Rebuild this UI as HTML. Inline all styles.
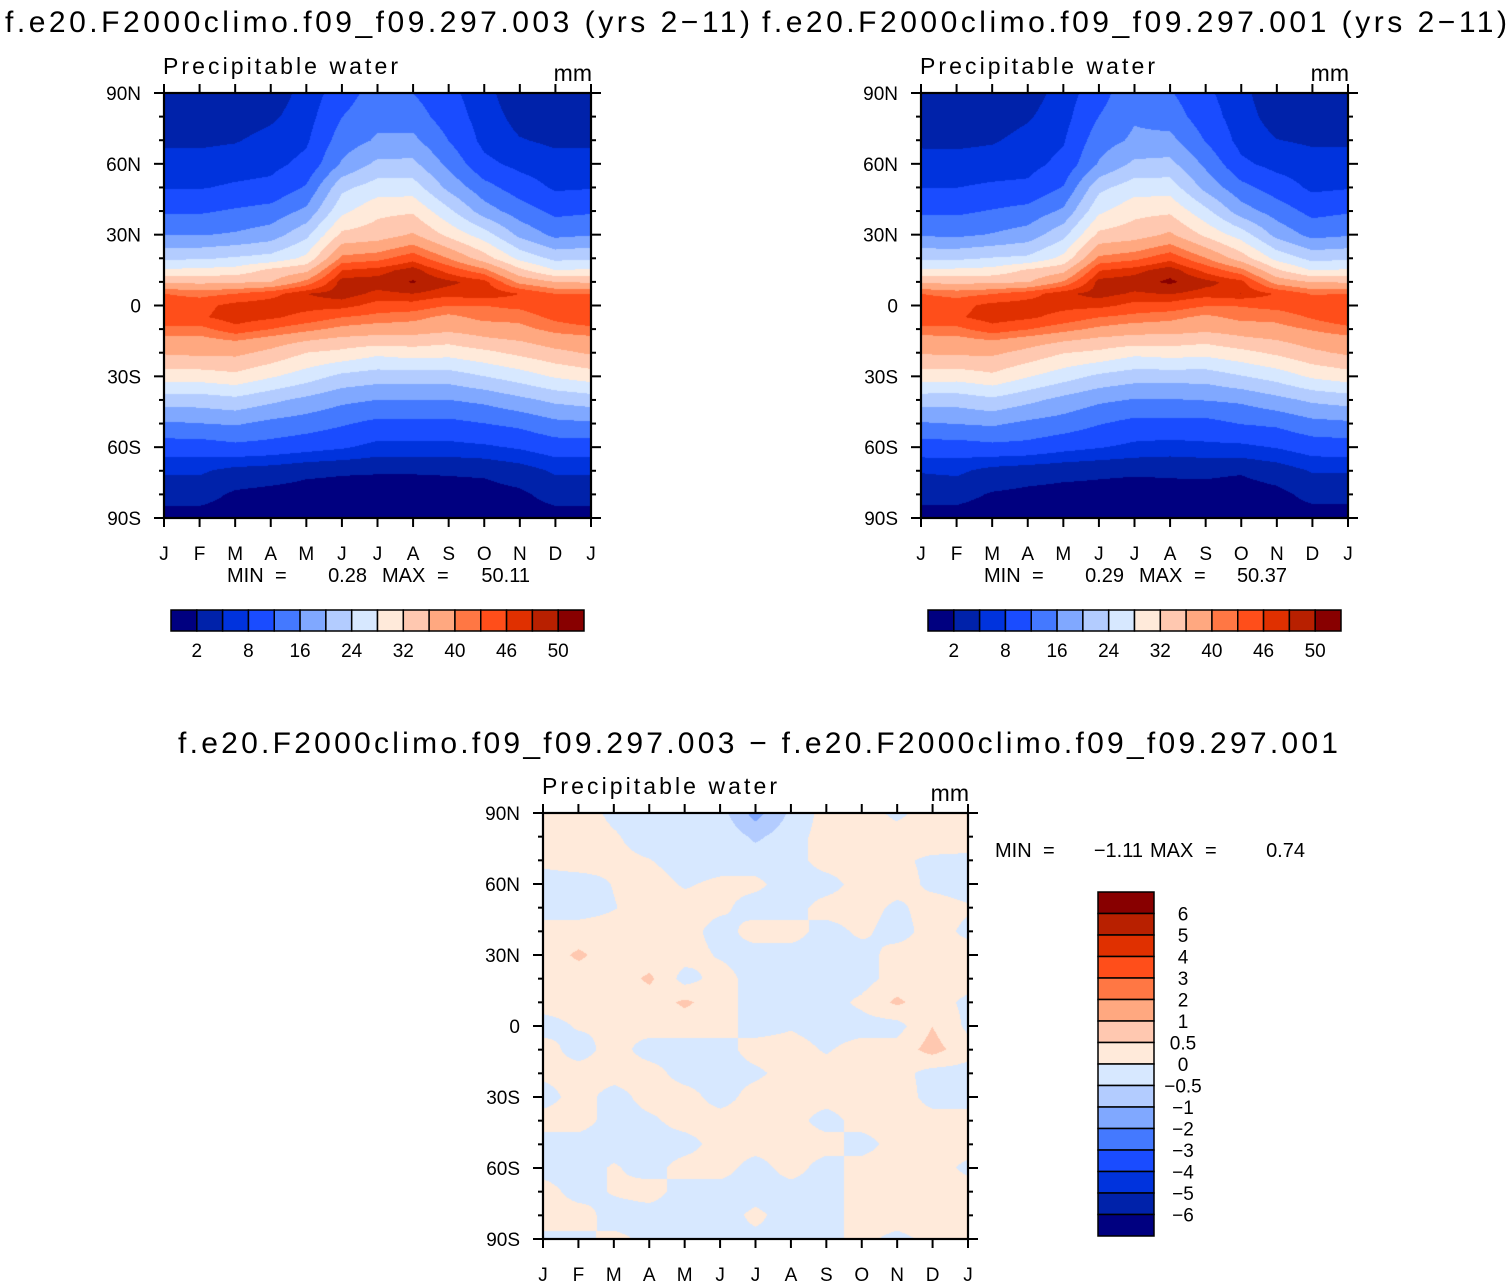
<!DOCTYPE html>
<html><head><meta charset="utf-8">
<style>
html,body{margin:0;padding:0;background:#fff;}
#wrap{position:relative;width:1512px;height:1285px;overflow:hidden;background:#fff;}
canvas{position:absolute;}
svg{position:absolute;left:0;top:0;}
text{font-family:"Liberation Sans",sans-serif;fill:#000;}
</style></head>
<body>
<div id="wrap">
<canvas id="c1" style="left:164px;top:93px" width="427" height="425"></canvas>
<canvas id="c2" style="left:921px;top:93px" width="427" height="425"></canvas>
<canvas id="c3" style="left:543px;top:813px" width="425" height="426"></canvas>
<svg id="s" width="1512" height="1285" xmlns="http://www.w3.org/2000/svg">
<text x="5" y="32" font-size="30" textLength="745" lengthAdjust="spacing">f.e20.F2000climo.f09_f09.297.003 (yrs 2−11)</text>
<text x="762" y="32" font-size="30" textLength="745" lengthAdjust="spacing">f.e20.F2000climo.f09_f09.297.001 (yrs 2−11)</text>
<text x="178" y="753" font-size="30" textLength="1160" lengthAdjust="spacing">f.e20.F2000climo.f09_f09.297.003 − f.e20.F2000climo.f09_f09.297.001</text>
</svg>
</div>
<script>
// ---- data ----
const LATS=[90,80,70,60,50,40,30,20,15,10,5,0,-5,-10,-15,-20,-30,-40,-50,-60,-70,-80,-90];
const MONTHS=['J','F','M','A','M','J','J','A','S','O','N','D','J'];
const LAT_TICKS=['90N','60N','30N','0','30S','60S','90S'];
const PW_LEVELS=[2,5,8,12,16,20,24,28,32,36,40,43,46,48,50];
const PW_LABELS=['2','8','16','24','32','40','46','50'];
const DIFF_LEVELS=[-6,-5,-4,-3,-2,-1,-0.5,0,0.5,1,2,3,4,5,6];
const DIFF_LABELS=['6','5','4','3','2','1','0.5','0','\u22120.5','\u22121','\u22122','\u22123','\u22124','\u22125','\u22126'];
const COLORS=['#000080','#0022aa','#0033dd','#1a4cff','#4479ff','#80a8ff','#b3ccff','#d7e8ff','#ffeada','#ffc8b0','#ffa880','#ff7744','#ff4e1a','#e03000','#b82000','#880000'];
// precipitable water (003), one array per month column (Jan..Jan), values at LATS
const pwJan=[3,3.5,4.5,6,7.8,11.5,15.8,23.5,28.5,35.5,43,45,46,42,38.5,36.5,30,22,15.5,10,5.5,3,1];
const pwFeb=[3,3.5,4.5,6,7.8,11.5,15.8,23.5,29,35,42,45,45.5,42,38.5,37,30,22,16,10,5.5,3,1];
const pwMar=[3,3.5,4.8,6.5,8.5,12.5,16.5,24.5,29.5,35.5,43,47,47.5,45,40,37,31,23,16.5,11,4,1.6,0.9];
const pwApr=[3.5,4.5,6,7,9,13.5,18,25.5,33,36,45,47.5,46.5,43,38,35,28.5,21,15,10.5,3.5,1.2,0.8];
const pwMay=[6,6.5,7.5,9,12.5,17,23,29,35,41,48,47,45,41,36,32,26,19,14,9.5,2.6,1,0.7];
const pwJun=[10,12,14,16.5,23,27,33,41,46,49,49,47,43,39,34.5,31,23,17,12.5,8.5,2.3,1,0.7];
const pwJul=[14,15,16.5,21,26,31,34,42,47,49,47.5,45,42,38,34,29,22,16,11,7,2.2,1,0.7];
const pwAug=[12,14,17,21,26,31.5,36.5,45,49,50.2,48,45,41,38,34,30,22,16,11,7,2.2,1,0.7];
const pwSep=[9,10,12,15,19,25,31,40,45,48.5,47,43,39,37,33,29.5,22,16,11,7,2.3,1,0.7];
const pwOct=[6,6.5,7,9,13.5,18,26,34,41,47,48,43,41,38,35,31,24,17,12,7.5,2.5,1,0.7];
const pwNov=[3,4,5.2,7,10,14,19,27,33,39,46,44,41,39,36,33,26,19,13,8.5,3.5,1.5,0.9];
const pwDec=[3,3.5,4.5,6,7.5,11,15,23,28,36,43,46,44,41,38,35,28.5,21,15,10,5.5,3,1];
const pwJan2=[3,3.5,4.5,6,7.8,11.5,15.8,23.5,28.5,35.5,43,45,46,42,38.5,36.5,30,22,15.5,10,5.5,3,1];
const PW_COLS=[pwJan,pwFeb,pwMar,pwApr,pwMay,pwJun,pwJul,pwAug,pwSep,pwOct,pwNov,pwDec,pwJan2];
// difference (003 - 001), rows at DLATS, columns Jan..Jan
const DLATS=[90,80,70,60,50,40,30,20,10,0,-10,-20,-30,-40,-50,-60,-70,-80,-90];
const d90=[0.2,0.2,-0.1,-0.2,-0.2,-0.3,-1.2,-0.4,0.2,0.2,-0.1,0.2,0.2];
const d80=[0.2,0.2,0.05,-0.2,-0.2,-0.1,-0.6,-0.2,0.2,0.3,0.2,0.3,0.2];
const d70=[0.1,0.2,0.1,0.02,-0.2,-0.2,-0.2,-0.2,0.2,0.2,0.1,-0.1,-0.1];
const d60=[-0.2,-0.2,0.02,0.2,-0.05,0.1,0.1,-0.2,-0.2,0.2,0.2,-0.1,-0.2];
const d50=[-0.2,-0.2,-0.02,0.2,0.2,0.1,-0.2,-0.2,0.2,0.2,-0.1,0.2,0.05];
const d40=[0.2,0.2,0.2,0.1,0.2,-0.2,0.2,0.2,-0.2,0.1,-0.2,0.2,-0.1];
const d30=[0.2,0.6,0.2,0.2,0.2,-0.05,-0.2,-0.2,-0.2,-0.2,0.2,0.2,0.2];
const d20=[0.2,0.2,0.2,0.6,-0.2,0.2,-0.2,-0.2,-0.2,-0.2,0.2,0.2,0.2];
const d10=[0.2,0.2,0.2,0.2,0.6,0.2,-0.2,-0.2,-0.2,0.1,0.6,0.2,-0.1];
const d00=[-0.2,0.05,0.05,0.2,0.2,0.2,-0.2,-0.05,-0.2,-0.2,-0.2,0.5,-0.1];
const dS10=[0.2,-0.2,0.2,-0.2,-0.2,-0.2,0.2,0.2,-0.05,0.2,0.2,0.7,0.2];
const dS20=[0.1,0.2,0.2,0.2,-0.2,-0.2,-0.1,0.2,0.2,0.2,0.2,-0.2,-0.2];
const dS30=[-0.2,0.2,-0.2,0.2,0.2,-0.2,0.2,0.2,0.2,0.2,0.3,-0.2,-0.2];
const dS40=[0.2,0.2,-0.2,-0.1,0.2,0.2,0.2,0.2,-0.2,0.2,0.2,0.2,0.2];
const dS50=[-0.2,-0.2,-0.2,-0.2,-0.2,0.2,0.2,0.2,0.2,-0.2,0.2,0.2,0.2];
const dS60=[-0.2,-0.2,0.05,-0.2,0.2,0.2,-0.2,0.2,-0.2,0.2,0.2,0.2,-0.1];
const dS70=[0.2,-0.2,0.05,0.2,-0.2,-0.2,-0.2,-0.2,-0.2,0.2,0.2,0.2,0.2];
const dS80=[0.2,0.2,-0.2,-0.2,-0.2,-0.2,0.1,-0.2,-0.2,0.2,0.2,0.2,0.2];
const dS90=[-0.1,-0.1,0.1,-0.1,-0.1,-0.1,-0.1,-0.1,-0.1,0.1,-0.1,0.1,0.1];
const DIFF_ROWS=[d90,d80,d70,d60,d50,d40,d30,d20,d10,d00,dS10,dS20,dS30,dS40,dS50,dS60,dS70,dS80,dS90];
const STATS1=['0.28','50.11'], STATS2=['0.29','50.37'], STATS3=['\u22121.11','0.74'];

// ---- helpers ----
function hex(c){return [parseInt(c.substr(1,2),16),parseInt(c.substr(3,2),16),parseInt(c.substr(5,2),16)];}
const RGB=COLORS.map(hex);
function levelIndex(v,levels){let k=0;while(k<levels.length&&v>=levels[k])k++;return k;}
function latSeg(lats,lat){for(let j=0;j<lats.length-1;j++){if(lat<=lats[j]&&lat>=lats[j+1])return [j,(lats[j]-lat)/(lats[j]-lats[j+1])];}return [lats.length-2,1];}
function pwAt(m,lat){
  const i=Math.min(11,Math.floor(m)),fx=m-i;const [j,fy]=latSeg(LATS,lat);
  const a=PW_COLS[i][j],b=PW_COLS[i+1][j],c=PW_COLS[i][j+1],d=PW_COLS[i+1][j+1];
  return (a*(1-fx)+b*fx)*(1-fy)+(c*(1-fx)+d*fx)*fy;}
function diffAt(m,lat){
  const i=Math.min(11,Math.floor(m)),fx=m-i;const [j,fy]=latSeg(DLATS,lat);
  const r0=DIFF_ROWS[j],r1=DIFF_ROWS[j+1];
  return (r0[i]*(1-fx)+r0[i+1]*fx)*(1-fy)+(r1[i]*(1-fx)+r1[i+1]*fx)*fy;}
function xToMonth(px,w){return px/(w-1)*12;}
function yToLat(py,h){return 90-py/(h-1)*180;}
function drawField(id,fn,levels){
  const cv=document.getElementById(id),ctx=cv.getContext('2d');
  const w=cv.width,h=cv.height,img=ctx.createImageData(w,h);
  for(let y=0;y<h;y++){const lat=yToLat(y,h);
    for(let x=0;x<w;x++){const v=fn(xToMonth(x,w),lat);const c=RGB[levelIndex(v,levels)];
      const p=(y*w+x)*4;img.data[p]=c[0];img.data[p+1]=c[1];img.data[p+2]=c[2];img.data[p+3]=255;}}
  ctx.putImageData(img,0,0);}
drawField('c1',pwAt,PW_LEVELS);
drawField('c2',(m,l)=>pwAt(m,l)-diffAt(m,l),PW_LEVELS);
drawField('c3',diffAt,DIFF_LEVELS);

const NS='http://www.w3.org/2000/svg',svg=document.getElementById('s');
function mk(tag,attrs){const e=document.createElementNS(NS,tag);for(const k in attrs)e.setAttribute(k,attrs[k]);svg.appendChild(e);return e;}
function txt(x,y,s,size,anchor){const e=mk('text',{x:x,y:y,'font-size':size,'text-anchor':anchor||'start'});e.textContent=s;return e;}

function axes(x0,y0,w,h,tag){
  const f=mk('rect',{x:x0,y:y0,width:w,height:h,fill:'none',stroke:'#000','stroke-width':2.2});
  
  
  for(let i=0;i<MONTHS.length;i++){const x=x0+i*w/12;
    const tb=mk('line',{x1:x,y1:y0+h,x2:x,y2:y0+h+9,stroke:'#000','stroke-width':2});
    
    
    const tt=mk('line',{x1:x,y1:y0,x2:x,y2:y0-9,stroke:'#000','stroke-width':2});
    
    
    const l=txt(x,y0+h+42,MONTHS[i],19,'middle');
    
    }
  for(let k=0;k<=18;k++){const y=y0+k*h/18,major=(k%3===0),len=major?10:5;
    const a=mk('line',{x1:x0-len,y1:y,x2:x0,y2:y,stroke:'#000','stroke-width':2});
    
    
    const b=mk('line',{x1:x0+w,y1:y,x2:x0+w+len,y2:y,stroke:'#000','stroke-width':2});
    
    
    if(major){const l=txt(x0-23,y+7,LAT_TICKS[k/3],19,'end');
      
      }}
  const p=txt(x0-1,y0-19,'Precipitable water',23);
  p.setAttribute('textLength','235');
  
  
  const u=txt(x0+w+1,y0-12,'mm',23,'end');
  
  }
axes(164,93,427,425,'panel-003');
axes(921,93,427,425,'panel-001');
axes(543,813,425,426,'panel-diff');

function stats(x,y,vals,tag,minEnd,maxEnd){
  const parts=[[x,'MIN','start'],[x+48,'=','start'],[minEnd,vals[0],'end'],[x+155,'MAX','start'],[x+210,'=','start'],[maxEnd,vals[1],'end']];
  for(const pt of parts){const e=txt(pt[0],y,pt[1],20,pt[2]);
    
    }}
stats(227,582,STATS1,'panel-003',367,530);
stats(984,582,STATS2,'panel-001',1124,1287);
stats(995,857,STATS3,'panel-diff',1143,1305);

function hbar(x0,tag){
  const bw=(584-171)/16;
  for(let k=0;k<16;k++){const r=mk('rect',{x:x0+k*bw,y:610,width:bw,height:21,fill:COLORS[k],stroke:'#000','stroke-width':1.5});
    
    }
  for(let i=0;i<PW_LABELS.length;i++){const l=txt(x0+(2*i+1)*bw,657,PW_LABELS[i],19,'middle');
    
    }}
hbar(171,'panel-003');
hbar(928,'panel-001');
(function(){const bh=(1236-892)/16;
  for(let k=0;k<16;k++){const r=mk('rect',{x:1098,y:892+k*bh,width:56,height:bh,fill:COLORS[15-k],stroke:'#000','stroke-width':1.5});
    
    }
  for(let i=0;i<DIFF_LABELS.length;i++){const l=txt(1183,892+(i+1)*bh+7,DIFF_LABELS[i],19,'middle');
    
    }})();
</script>
</body></html>
